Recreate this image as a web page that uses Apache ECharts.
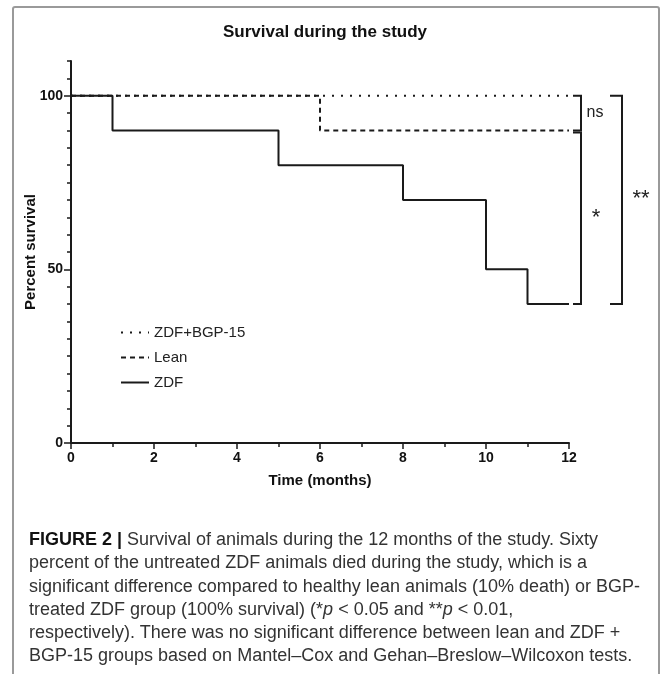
<!DOCTYPE html>
<html>
<head>
<meta charset="utf-8">
<title>Survival during the study</title>
<script src="https://cdn.jsdelivr.net/npm/echarts@6/dist/echarts.min.js"></script>
<style>
  html, body { margin: 0; padding: 0; background: #fff; }
  #frame {
    position: absolute; left: 12px; top: 6px; width: 648px; height: 700px;
    border: 2px solid #9a9a9a; border-radius: 3px; box-sizing: border-box;
  }
  #chart { position: absolute; left: 0; top: 0; width: 663px; height: 674px; }
  #caption {
    position: absolute; left: 29px; top: 528px;
    font-family: "Liberation Sans", Arial, sans-serif; font-size: 18px;
    line-height: 23.3px; color: #333; white-space: nowrap;
  }
  #caption b { color: #111; }
</style>
</head>
<body>
<div id="frame"></div>
<div id="chart"></div>
<div id="caption">
  <div><b>FIGURE 2 |</b> Survival of animals during the 12 months of the study. Sixty</div>
  <div>percent of the untreated ZDF animals died during the study, which is a</div>
  <div>significant difference compared to healthy lean animals (10% death) or BGP-</div>
  <div>treated ZDF group (100% survival) (*<i>p</i> &lt; 0.05 and **<i>p</i> &lt; 0.01,</div>
  <div>respectively). There was no significant difference between lean and ZDF +</div>
  <div>BGP-15 groups based on Mantel–Cox and Gehan–Breslow–Wilcoxon tests.</div>
</div>
<script>
// --- data (Kaplan-Meier steps, months / % survival) ---
const zdfTime = [0, 1, 5, 8, 10, 11, 12];
const zdfSurvival = [100, 90, 80, 70, 50, 40, 40];
const leanTime = [0, 6, 12];
const leanSurvival = [100, 90, 90];
const bgpTime = [0, 12];
const bgpSurvival = [100, 100];
const yTickLabels = [0, 50, 100];
const xTickLabels = [0, 2, 4, 6, 8, 10, 12];
// significance brackets: [from %, to %, label]
const brackets = [
  [100, 90, 'ns'],
  [90, 40, '*'],
  [100, 40, '**']
];

const INK = '#1a1a1a';
const FONT = '"Liberation Sans", Arial, sans-serif';

const pairs = (xs, ys) => xs.map((x, i) => [x, ys[i]]);

const chart = echarts.init(document.getElementById('chart'), null, { renderer: 'canvas' });

const option = {
  animation: false,
  textStyle: { fontFamily: FONT },
  title: {
    text: 'Survival during the study',
    left: 320,
    textAlign: 'center',
    top: 19,
    textStyle: { fontSize: 17, fontWeight: 'bold', color: '#111', fontFamily: FONT }
  },
  legend: {
    data: ['ZDF+BGP-15', 'Lean', 'ZDF'],
    orient: 'vertical',
    left: 115,
    top: 320,
    itemWidth: 28,
    itemHeight: 14,
    itemGap: 10,
    itemStyle: { opacity: 0 },   // hide the default circle, keep the line
    textStyle: { fontSize: 15, color: '#222', fontFamily: FONT }
  },
  grid: { left: 71, right: 94, top: 61, bottom: 231, containLabel: false },
  xAxis: {
    type: 'value',
    min: 0,
    max: 12,
    interval: 2,
    name: 'Time (months)',
    nameLocation: 'middle',
    nameGap: 30,
    nameMoveOverlap: false,
    nameTextStyle: { fontSize: 15, fontWeight: 'bold', color: '#111' },
    axisLine: { lineStyle: { color: INK, width: 2 } },
    axisTick: { length: 6, lineStyle: { color: INK, width: 1.5 } },
    minorTick: { show: true, splitNumber: 2, length: 4, lineStyle: { color: INK, width: 1.5 } },
    axisLabel: {
      margin: 8, fontSize: 14, fontWeight: 'bold', color: '#111',
      formatter: v => xTickLabels.includes(v) ? String(v) : ''
    },
    splitLine: { show: false }
  },
  yAxis: [
    {
      // minor ticks every 5 %
      type: 'value', min: 0, max: 110, interval: 5, position: 'left',
      axisLine: { show: true, lineStyle: { color: INK, width: 2 } },
      axisTick: { show: true, length: 4, lineStyle: { color: INK, width: 1.5 } },
      axisLabel: { show: false },
      splitLine: { show: false }
    },
    {
      // labelled ticks
      type: 'value', min: 0, max: 110, position: 'left', offset: 0,
      name: 'Percent survival',
      nameLocation: 'middle',
      nameGap: 33,
      nameMoveOverlap: false,
      nameTextStyle: { fontSize: 15, fontWeight: 'bold', color: '#111' },
      axisLine: { show: false },
      axisTick: { show: true, length: 7, customValues: yTickLabels, lineStyle: { color: INK, width: 1.5 } },
      axisLabel: { margin: 8, fontSize: 14, fontWeight: 'bold', color: '#111', customValues: yTickLabels },
      splitLine: { show: false }
    }
  ],
  series: [
    {
      name: 'ZDF', type: 'line', step: 'end', symbol: 'none', z: 2,
      lineStyle: { color: INK, width: 2, type: 'solid' },
      itemStyle: { color: INK },
      data: pairs(zdfTime, zdfSurvival)
    },
    {
      name: 'Lean', type: 'line', step: 'end', symbol: 'none', z: 3,
      lineStyle: { color: INK, width: 2, type: [5, 4] },
      itemStyle: { color: INK },
      data: pairs(leanTime, leanSurvival)
    },
    {
      name: 'ZDF+BGP-15', type: 'line', step: 'end', symbol: 'none', z: 4,
      lineStyle: { color: INK, width: 2, type: [2, 7] },
      itemStyle: { color: INK },
      data: pairs(bgpTime, bgpSurvival)
    }
  ]
};

chart.setOption(option);

// --- significance brackets to the right of the plot ---
const toPx = (x, y) => chart.convertToPixel({ xAxisIndex: 0, yAxisIndex: 0 }, [x, y]);
const xEnd = toPx(12, 0)[0];
const graphics = [];
const bracketGeom = [
  { x: xEnd + 12, arm: 8, topPad: 0, dy: 0, tx: xEnd + 26, size: 16 },
  { x: xEnd + 12, arm: 8, topPad: 2, dy: 0, tx: xEnd + 27, size: 22 },
  { x: xEnd + 53, arm: 12, topPad: 0, dy: -1, tx: xEnd + 72, size: 22 }
];
brackets.forEach(([from, to, label], i) => {
  const g = bracketGeom[i];
  const yTop = toPx(12, from)[1] + g.topPad;
  const yBot = toPx(12, to)[1];
  graphics.push({
    type: 'polyline',
    shape: { points: [[g.x - g.arm, yTop], [g.x, yTop], [g.x, yBot], [g.x - g.arm, yBot]] },
    style: { stroke: INK, lineWidth: 2, fill: null }
  });
  graphics.push({
    type: 'text',
    x: g.tx,
    y: (yTop + yBot) / 2 + g.dy,
    style: {
      text: label, fontSize: g.size, fontFamily: FONT, fill: '#222',
      align: 'center', verticalAlign: 'middle'
    }
  });
});
chart.setOption({ graphic: graphics });
</script>
</body>
</html>
